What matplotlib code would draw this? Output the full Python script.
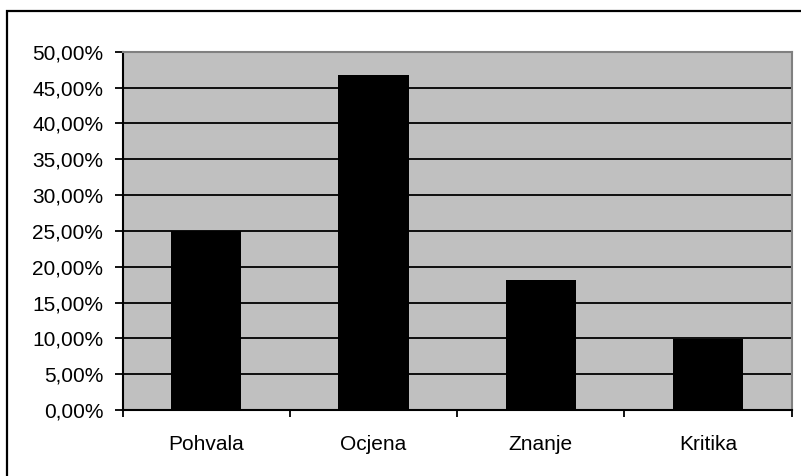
import matplotlib
matplotlib.use("Agg")
import matplotlib.pyplot as plt
from matplotlib.patches import Rectangle
from matplotlib.ticker import FuncFormatter

# Values (percent)
categories = ["Pohvala", "Ocjena", "Znanje", "Kritika"]
values = [25.0, 46.8, 18.1, 9.9]
y_ticks = [0, 5, 10, 15, 20, 25, 30, 35, 40, 45, 50]

plt.rcParams["font.family"] = ["Liberation Sans", "DejaVu Sans"]

W, H = 801, 476
fig = plt.figure(figsize=(W / 100, H / 100), dpi=100)

# outer chart frame (cut off at right and bottom, like the reference)
fig.patches.append(
    Rectangle((7 / W, -0.1), 1.1, (H - 10.5) / H + 0.1, transform=fig.transFigure,
              fill=False, edgecolor="black", linewidth=1.6)
)

ax = fig.add_axes([122.7 / W, (H - 410) / H, (791.7 - 122.7) / W, (410 - 51.7) / H])
ax.set_facecolor("#C0C0C0")

x = list(range(len(categories)))
ax.set_axisbelow(True)
ax.yaxis.grid(True, color="black", linewidth=1.3)
ax.bar(x, values, width=0.42, color="black", zorder=3)

ax.set_xlim(-0.5, len(categories) - 0.5)
ax.set_ylim(0, 50)
ax.set_yticks(y_ticks)
ax.yaxis.set_major_formatter(FuncFormatter(lambda v, p: f"{v:.2f}%".replace(".", ",")))

# category boundaries get the ticks, centres get the labels
ax.set_xticks([i - 0.5 for i in range(len(categories) + 1)])
ax.set_xticklabels([])
ax.set_xticks(x, minor=True)
ax.set_xticklabels(categories, minor=True)
ax.tick_params(axis="x", which="major", length=5, width=1.3, direction="out")
ax.tick_params(axis="x", which="minor", length=0, pad=18, labelsize=15)
ax.tick_params(axis="y", length=6, width=1.3, direction="out", pad=8, labelsize=15)

for side in ["left", "bottom"]:
    ax.spines[side].set_color("black")
    ax.spines[side].set_linewidth(1.5)
for side in ["top", "right"]:
    ax.spines[side].set_color("#808080")
    ax.spines[side].set_linewidth(1.5)

fig.savefig("out.png", dpi=100, facecolor="white")
